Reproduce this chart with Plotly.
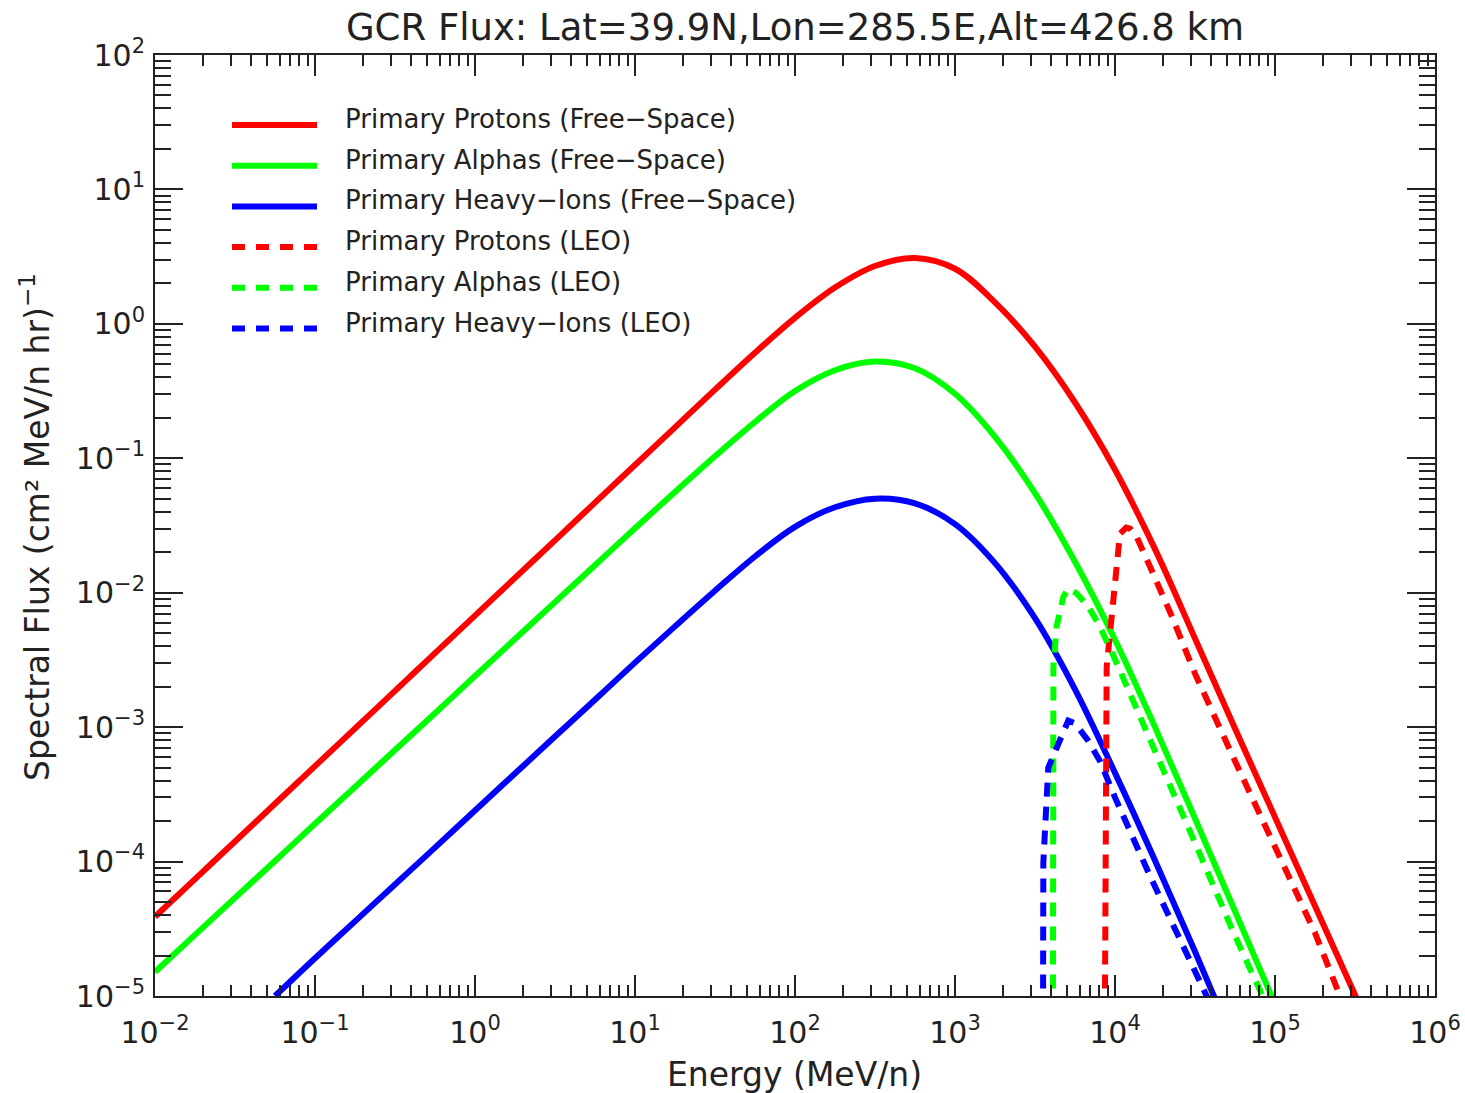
import plotly.graph_objects as go

# ---------------- data ----------------
# Free-space spectra: energies (MeV/n) on a quarter-decade grid
E_GRID = [0.01, 0.01778, 0.03162, 0.05623, 0.1, 0.1778, 0.3162, 0.5623, 1.0,
          1.778, 3.162, 5.623, 10.0, 17.78, 31.62, 56.23, 100.0, 177.8, 316.2,
          562.3, 1000.0, 1778.0, 3162.0, 5623.0, 1.0e4, 1.778e4, 3.162e4,
          5.623e4, 1.0e5, 1.778e5, 3.162e5, 5.623e5]
PROTONS_FS = [3.89e-5, 7.41e-5, 1.41e-4, 2.69e-4, 5.13e-4, 9.77e-4, 1.86e-3,
              3.55e-3, 6.76e-3, 1.29e-2, 2.45e-2, 4.68e-2, 8.91e-2, 0.170,
              0.324, 0.610, 1.109, 1.862, 2.692, 3.090, 2.570, 1.445, 0.676,
              0.260, 0.0822, 0.0211, 4.57e-3, 9.77e-4, 2.14e-4, 4.68e-5,
              1.02e-5, 2.24e-6]

E_ALPHA_FS = [0.01, 0.01778, 0.03162, 0.05623, 0.1, 0.1778, 0.3162, 0.5623,
              1.0, 1.778, 3.162, 5.623, 10.0, 17.78, 31.62, 56.23, 100.0, 177.8,
              316.2, 562.3, 1000.0, 1778.0, 3162.0, 5623.0, 1.0e4, 1.778e4,
              3.162e4, 5.623e4, 1.0e5]
ALPHAS_FS = [1.51e-5, 2.85e-5, 5.37e-5, 1.01e-4, 1.91e-4, 3.59e-4, 6.76e-4,
             1.27e-3, 2.40e-3, 4.52e-3, 8.51e-3, 1.60e-2, 3.02e-2, 5.62e-2,
             0.1035, 0.1862, 0.3162, 0.4519, 0.5248, 0.4677, 0.3020, 0.1445,
             0.0550, 0.0170, 4.47e-3, 1.0e-3, 2.09e-4, 4.27e-5, 8.71e-6]

E_HEAVY_FS = [0.05623, 0.1, 0.1778, 0.3162, 0.5623, 1.0, 1.778, 3.162, 5.623,
              10.0, 17.78, 31.62, 56.23, 100.0, 177.8, 316.2, 562.3, 1000.0,
              1778.0, 3162.0, 5623.0, 1.0e4, 1.778e4, 3.162e4, 5.623e4]
HEAVY_FS = [1.0e-5, 1.91e-5, 3.59e-5, 6.76e-5, 1.27e-4, 2.40e-4, 4.52e-4,
            8.51e-4, 1.60e-3, 3.02e-3, 5.62e-3, 1.035e-2, 1.86e-2, 3.09e-2,
            4.32e-2, 5.01e-2, 4.62e-2, 3.24e-2, 1.66e-2, 6.46e-3, 1.91e-3,
            4.57e-4, 1.02e-4, 2.14e-5, 4.27e-6]

# LEO (geomagnetically shielded) spectra
E_PROTONS_LEO = [8630, 8670, 8870, 9310, 9730, 10230, 10740, 11750, 12420,
                 13650, 15030, 16560, 22390, 31620, 56230, 1.0e5, 1.778e5,
                 2.547e5, 3.16e5]
PROTONS_LEO = [5.0e-6, 4.2e-5, 2.8e-3, 5.0e-3, 9.3e-3, 1.66e-2, 2.75e-2,
               3.05e-2, 3.0e-2, 2.6e-2, 2.07e-2, 1.56e-2, 6.9e-3, 2.5e-3,
               5.6e-4, 1.29e-4, 2.95e-5, 1.0e-5, 6.8e-6]

E_ALPHAS_LEO = [4093, 4121, 4315, 4753, 5105, 5754, 6760, 8054, 1.0e4,
                1.778e4, 3.162e4, 5.623e4, 8.45e4, 1.0e5]
ALPHAS_LEO = [5.0e-6, 2.8e-3, 5.6e-3, 9.3e-3, 1.07e-2, 9.9e-3, 8.0e-3, 5.6e-3,
              3.2e-3, 6.8e-4, 1.38e-4, 2.8e-5, 1.0e-5, 6.3e-6]

E_HEAVY_LEO = [3548, 3565, 3828, 4529, 5105, 5623, 6760, 8054, 1.0e4, 1.656e4,
               2.512e4, 3.741e4, 3.98e4]
HEAVY_LEO = [5.0e-6, 9.8e-5, 5.0e-4, 7.9e-4, 1.12e-3, 1.07e-3, 8.0e-4, 5.6e-4,
             3.0e-4, 7.8e-5, 2.7e-5, 1.0e-5, 7.9e-6]

SERIES_NAMES = ["Primary Protons (Free\u2212Space)",
                "Primary Alphas (Free\u2212Space)",
                "Primary Heavy\u2212Ions (Free\u2212Space)",
                "Primary Protons (LEO)",
                "Primary Alphas (LEO)",
                "Primary Heavy\u2212Ions (LEO)"]

X_TICKS = [1e-2, 1e-1, 1e0, 1e1, 1e2, 1e3, 1e4, 1e5, 1e6]
X_TICK_TEXT = ["10<sup>\u22122</sup>", "10<sup>\u22121</sup>", "10<sup>0</sup>",
               "10<sup>1</sup>", "10<sup>2</sup>", "10<sup>3</sup>",
               "10<sup>4</sup>", "10<sup>5</sup>", "10<sup>6</sup>"]
Y_TICKS = [1e-5, 1e-4, 1e-3, 1e-2, 1e-1, 1e0, 1e1, 1e2]
Y_TICK_TEXT = ["10<sup>\u22125</sup>", "10<sup>\u22124</sup>", "10<sup>\u22123</sup>",
               "10<sup>\u22122</sup>", "10<sup>\u22121</sup>", "10<sup>0</sup>",
               "10<sup>1</sup>", "10<sup>2</sup>"]

TITLE = "GCR Flux: Lat=39.9N,Lon=285.5E,Alt=426.8 km"
X_TITLE = "Energy (MeV/n)"
Y_TITLE = "Spectral Flux (cm\u00b2 MeV/n hr)<sup>\u22121</sup>"

# ---------------- styling ----------------
RED, GREEN, BLUE = "#ff0000", "#00ff00", "#0000ff"
COLORS = [RED, GREEN, BLUE, RED, GREEN, BLUE]
DASH = "14px,10px"
DASHES = ["solid", "solid", "solid", DASH, DASH, DASH]
LW = 6
AX = "#222222"
FONT = "DejaVu Sans"

W, H = 1465, 1093
L, R, T, B = 155, 30, 55, 97
PW, PH = W - L - R, H - T - B


def px_x(px):
    return (px - L) / PW


def px_y(py):
    return (H - B - py) / PH


fig = go.Figure()
data = [(E_GRID, PROTONS_FS), (E_ALPHA_FS, ALPHAS_FS), (E_HEAVY_FS, HEAVY_FS),
        (E_PROTONS_LEO, PROTONS_LEO), (E_ALPHAS_LEO, ALPHAS_LEO),
        (E_HEAVY_LEO, HEAVY_LEO)]
for i, (ex, fy) in enumerate(data):
    fig.add_trace(go.Scatter(
        x=ex, y=fy, mode="lines", name=SERIES_NAMES[i], showlegend=False,
        line=dict(color=COLORS[i], width=LW, dash=DASHES[i],
                  shape="spline" if i < 3 else "linear", smoothing=1.0),
        hoverinfo="skip"))

# minor tick positions (2..9 x 10^n)
minor_x = [k * 10.0 ** n for n in range(-2, 6) for k in range(2, 10)]
minor_y = [k * 10.0 ** n for n in range(-5, 2) for k in range(2, 10)]

axis_common = dict(type="log", showgrid=False, zeroline=False, showline=True,
                   linecolor=AX, linewidth=2, mirror="allticks", ticks="inside",
                   tickwidth=2, tickcolor=AX, tickmode="array", automargin=False,
                   tickfont=dict(family=FONT, size=30, color=AX))

fig.update_xaxes(range=[-2, 6], tickvals=X_TICKS, ticktext=X_TICK_TEXT,
                 ticklen=21, ticklabelstandoff=9,
                 minor=dict(tickmode="array", tickvals=minor_x, ticks="inside",
                            ticklen=11, tickwidth=2, tickcolor=AX, showgrid=False),
                 **axis_common)
fig.update_yaxes(range=[-5, 2], tickvals=Y_TICKS, ticktext=Y_TICK_TEXT,
                 ticklen=28, ticklabelstandoff=2,
                 minor=dict(tickmode="array", tickvals=minor_y, ticks="inside",
                            ticklen=16, tickwidth=2, tickcolor=AX, showgrid=False),
                 **axis_common)

annotations = [
    dict(text=X_TITLE, x=px_x(794), y=px_y(1074), xref="paper", yref="paper",
         xanchor="center", yanchor="middle", showarrow=False,
         font=dict(family=FONT, size=33, color=AX)),
    dict(text=Y_TITLE, x=px_x(35), y=px_y(527), xref="paper", yref="paper",
         xanchor="center", yanchor="middle", showarrow=False, textangle=-90,
         font=dict(family=FONT, size=33, color=AX)),
]
shapes = []
# manual legend (long line samples as in the reference)
row0, dy = 125, 40.7
for i, name in enumerate(SERIES_NAMES):
    yy = row0 + i * dy
    shapes.append(dict(type="line", xref="paper", yref="paper",
                       x0=px_x(232), x1=px_x(317), y0=px_y(yy), y1=px_y(yy),
                       line=dict(color=COLORS[i], width=LW,
                                 dash="solid" if i < 3 else "13px,11px")))
    annotations.append(dict(text=name, x=px_x(343), y=px_y(yy - 6),
                            xref="paper", yref="paper", xanchor="left",
                            yanchor="middle", showarrow=False,
                            font=dict(family=FONT, size=26, color=AX)))

fig.update_layout(
    width=W, height=H, margin=dict(l=L, r=R, t=T, b=B, pad=0),
    paper_bgcolor="white", plot_bgcolor="white",
    title=dict(text=TITLE, x=(L + PW / 2) / W, xanchor="center",
               y=1 - 27 / H, yanchor="middle",
               font=dict(family=FONT, size=37, color=AX)),
    annotations=annotations, shapes=shapes, showlegend=False,
)

fig.write_html("out.html", config={"displayModeBar": False},
               post_script="document.body.style.margin='0px';"
                           "document.body.style.overflow='hidden';")
